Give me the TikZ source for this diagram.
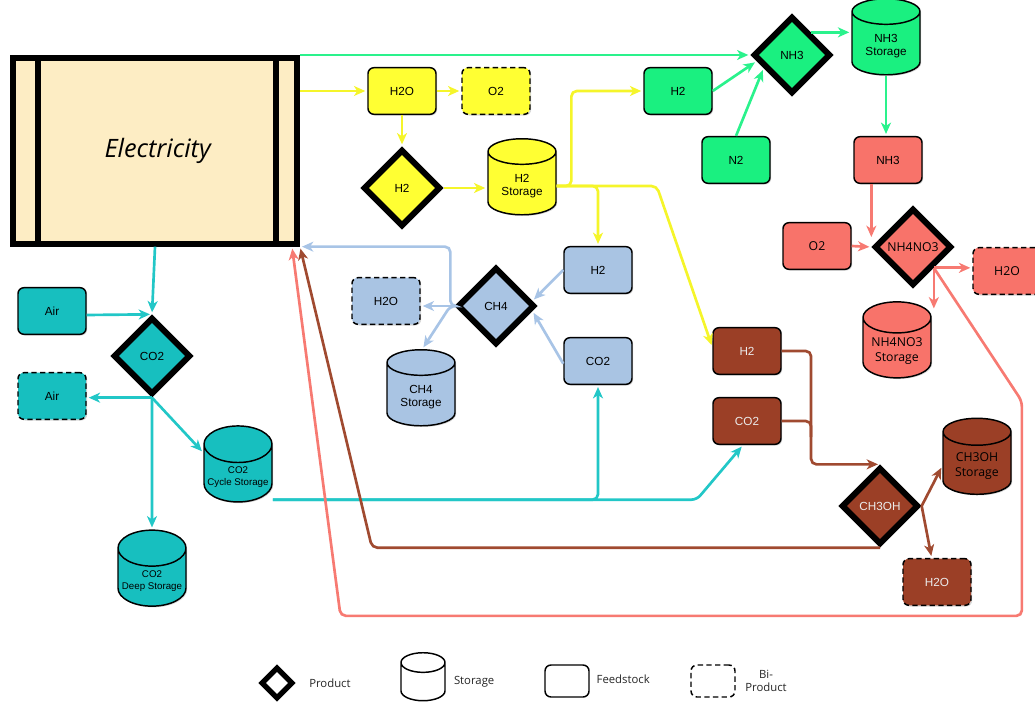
\documentclass[tikz,border=0pt]{standalone}
\usepackage{fontspec}
\usepackage{xcolor}
\usepackage{tikz}
\usetikzlibrary{arrows.meta,shapes.geometric,positioning,shadows}

\newfontfamily\arialfam{Liberation Sans}
\newfontfamily\openfam{Open Sans}
\newcommand{\boxfont}{\arialfam\fontsize{8.8}{10.2}\selectfont}
\newcommand{\smallbox}{\arialfam\fontsize{7.3}{8.8}\selectfont}
\newcommand{\softfont}{\openfam\fontsize{9.2}{10.6}\selectfont}
\newcommand{\legfont}{\openfam\fontsize{8.5}{10}\selectfont}

\definecolor{elecfill}{HTML}{FDEDC4}
\definecolor{yelfill}{HTML}{FFFF33}
\definecolor{yelline}{HTML}{F5F52A}
\definecolor{grnfill}{HTML}{1AF080}
\definecolor{grnline}{HTML}{2AF28C}
\definecolor{redfill}{HTML}{F8736A}
\definecolor{redline}{HTML}{F77A72}
\definecolor{cyanfill}{HTML}{17BFBF}
\definecolor{cyanline}{HTML}{22C7C7}
\definecolor{bluefill}{HTML}{A9C4E3}
\definecolor{blueline}{HTML}{A8C4E6}
\definecolor{brnfill}{HTML}{9B3F26}
\definecolor{brnline}{HTML}{A04A30}

\tikzset{
  dropsh/.style={drop shadow={opacity=0.3, shadow xshift=0.9pt, shadow yshift=-0.9pt}},
  feedshape/.style={draw=black, line width=1.1pt, rounded corners=4.5pt, minimum width=51pt, minimum height=35pt, inner sep=2pt, font=\boxfont},
  biprodshape/.style={feedshape, dash pattern=on 4pt off 2.5pt},
  prodshape/.style={diamond, aspect=1, draw=black, line width=4.5pt, minimum width=58pt, minimum height=58pt, inner sep=0pt, font=\boxfont},
  storeshape/.style={cylinder, shape border rotate=90, aspect=0.55, draw=black, line width=1.1pt, minimum width=51pt, minimum height=57pt, inner sep=2pt, align=center, font=\boxfont},
  feed/.style={feedshape, dropsh},
  biprod/.style={biprodshape, dropsh},
  product/.style={prodshape, dropsh},
  store/.style={storeshape, dropsh},
  legtext/.style={inner sep=0pt, font=\legfont, text=black!85},
  flowline/.style={line width=2pt, rounded corners=4pt, ->, shorten >=1.5pt},
  gflow/.style={flowline, draw=grnline},
  yflow/.style={flowline, draw=yelline},
  bflow/.style={flowline, draw=blueline},
  cflow/.style={flowline, draw=cyanline},
  nflow/.style={flowline, draw=brnline},
  rflow/.style={flowline, draw=redline},
}

\begin{document}
\begin{tikzpicture}[>={Stealth[length=8.5pt,width=7.5pt,inset=2.5pt]}, x=0.75pt, y=-0.75pt]

  \useasboundingbox (0,0) rectangle (1035,709);

  % electricity block
  \draw (155,151) node[draw=black, line width=4.5pt, fill=elecfill, minimum width=213pt, minimum height=139pt, dropsh, font=\openfam\itshape\fontsize{19}{22}\selectfont] (elec) {\hspace{4pt}Electricity};
  \draw[line width=4.5pt] ([xshift=21pt]elec.north west) -- ([xshift=21pt]elec.south west);
  \draw[line width=4.5pt] ([xshift=-18pt]elec.north east) -- ([xshift=-18pt]elec.south east);

  % hydrogen
  \draw (402,91) node[feed, fill=yelfill] (ywater) {H2O};
  \draw (496,91) node[biprod, fill=yelfill] (yoxy) {O2};
  \draw (402,188) node[product, fill=yelfill] (yhyd) {H2};
  \draw (522,186) node[store, fill=yelfill] (ystore) {H2\\Storage};

  % ammonia
  \draw (678,91) node[feed, fill=grnfill] (ghyd) {H2};
  \draw (792,55) node[product, fill=grnfill] (gammo) {NH3};
  \draw (886,46) node[store, fill=grnfill] (gstore) {NH3\\Storage};
  \draw (736,160) node[feed, fill=grnfill] (gnit) {N2};

  % ammonium nitrate
  \draw (888,160) node[feed, fill=redfill] (rammo) {NH3};
  \draw (817,246) node[feed, fill=redfill, font=\softfont] (roxy) {O2};
  \draw (913,247) node[product, fill=redfill, font=\softfont] (rnitrate) {NH4NO3};
  \draw (1007,271) node[biprod, fill=redfill, font=\softfont] (rwater) {H2O};
  \draw (897,351) node[store, fill=redfill, font=\softfont] (rstore) {NH4NO3\\Storage};

  % carbon capture
  \draw (52,311) node[feed, fill=cyanfill] (cair) {Air};
  \draw (152,356) node[product, fill=cyanfill] (cco2) {CO2};
  \draw (52,396) node[biprod, fill=cyanfill] (cair2) {Air};
  \draw (238,477) node[store, fill=cyanfill, font=\smallbox] (ccycle) {CO2\\Cycle Storage};
  \draw (152,581) node[store, fill=cyanfill, font=\smallbox] (cdeep) {CO2\\Deep Storage};

  % methane
  \draw (386,301) node[biprod, fill=bluefill] (bwater) {H2O};
  \draw (496,306) node[product, fill=bluefill] (bmeth) {CH4};
  \draw (598,270) node[feed, fill=bluefill] (bhyd) {H2};
  \draw (598,361) node[feed, fill=bluefill] (bco2) {CO2};
  \draw (421,397) node[store, fill=bluefill] (bstore) {CH4\\Storage};

  % methanol
  \draw (747,351) node[feed, fill=brnfill, text=white!92!black] (nhyd) {H2};
  \draw (747,421) node[feed, fill=brnfill, text=white!92!black] (nco2) {CO2};
  \draw (880,506) node[product, fill=brnfill, text=white!92!black] (nmeoh) {CH3OH};
  \draw (977,466) node[store, fill=brnfill, font=\softfont] (nstore) {CH3OH\\Storage};
  \draw (937,582) node[biprod, fill=brnfill, text=white!92!black] (nwater) {H2O};

  % green links
  \draw[gflow] (elec.north east |- gammo.west) -- (gammo.west);
  \draw[gflow] (ghyd.east) -- (gammo.190);
  \draw[gflow] (gnit.north) -- (gammo.205);
  \draw[gflow] (gammo.50) -- (gammo.50 -| gstore.west);
  \draw[gflow] (gstore.south) -- (gstore.south |- rammo.north);

  % yellow links
  \draw[yflow] (elec.east |- ywater.west) -- (ywater.west);
  \draw[yflow] (ywater.east) -- (yoxy.west);
  \draw[yflow] (ywater.south) -- (yhyd.north);
  \draw[yflow] (yhyd.east) -- (yhyd.east -| ystore.west);
  \draw[yflow] (ystore.east) -- ++(11pt,0) |- (ghyd.west);
  \draw[yflow] (ystore.east) -| (bhyd.north);
  \draw[yflow] (ystore.east) -- ++(75pt,0) -- ([yshift=3pt]nhyd.west);

  % blue links
  \draw[bflow] (bhyd.west) -- (bmeth.8);
  \draw[bflow] ([yshift=-2pt]bco2.west) -- (bmeth.-8);
  \draw[bflow] (bmeth.west) -- (bmeth.west -| bwater.east);
  \draw[bflow] (bmeth.west) -- ++(-3pt,0) |- (elec.south east);
  \draw[bflow] (bmeth.west) -- ++(-3pt,0) -- ([xshift=1pt]bstore.north);

  % cyan links
  \draw[cflow] (elec.south) -- (cco2.north);
  \draw[cflow] ([yshift=-3pt]cair.east) -- (cco2.north);
  \draw[cflow] (cco2.south) -- (cco2.south -| cair2.east);
  \draw[cflow] (cco2.south) -- (cdeep.north);
  \draw[cflow] (cco2.south) -- (ccycle.145);
  \draw[cflow] ([yshift=-17pt]ccycle.east) -| (bco2.south);
  \draw[cflow] ([yshift=-17pt]ccycle.east) -- ++(318pt,0) -- ([xshift=-3pt]nco2.south);

  % brown links
  \draw[nflow] (nhyd.east) -- ++(22pt,0) |- (nmeoh.north);
  \draw[line width=2pt, rounded corners=4pt, draw=brnline] (nco2.east) -- ++(22pt,0) -- ++(0,-12pt);
  \draw[nflow] (nmeoh.east) -- (nstore.west);
  \draw[nflow] (nmeoh.east) -- ([xshift=-4pt]nwater.north);
  \draw[nflow] (nmeoh.south) -- ++(-381pt,0) -- (elec.south east);

  % red links
  \draw[rflow] (rammo.south -| rnitrate.west) -- ([yshift=6pt]rnitrate.west);
  \draw[rflow] (roxy.east) -- (rnitrate.west);
  \draw[rflow] (rnitrate.south east) -- (rnitrate.south east -| rwater.west);
  \draw[rflow] (rnitrate.south east) -- ([yshift=-7pt]rnitrate.south east |- rstore.north);
  \draw[rflow] (rnitrate.south east) -- ++(66pt,-100pt) -- ++(0,-161pt) -- ++(-511pt,0) -- ([xshift=-6pt]elec.south east);

  % legend
  \draw (277,683) node[prodshape, minimum width=24pt, minimum height=24pt, line width=4pt] (lgprod) {};
  \node[legtext, right=10pt of lgprod] (lgprodtxt) {Product};
  \draw (423,682) node[storeshape, aspect=1.1, minimum width=33pt, minimum height=36pt, inner sep=0pt, font=\smallbox] (lgstore) {\phantom{Stor}};
  \node[legtext, right=6pt of lgstore] (lgstoretxt) {Storage};
  \draw (567,681) node[feedshape, minimum width=33pt, minimum height=24pt] (lgfeed) {};
  \node[legtext, right=5pt of lgfeed, yshift=1pt] (lgfeedtxt) {Feedstock};
  \draw (713,681) node[biprodshape, minimum width=33pt, minimum height=24pt] (lgbi) {};
  \node[legtext, right=7pt of lgbi, align=center] (lgbitxt) {Bi-\\Product};

\end{tikzpicture}
\end{document}
